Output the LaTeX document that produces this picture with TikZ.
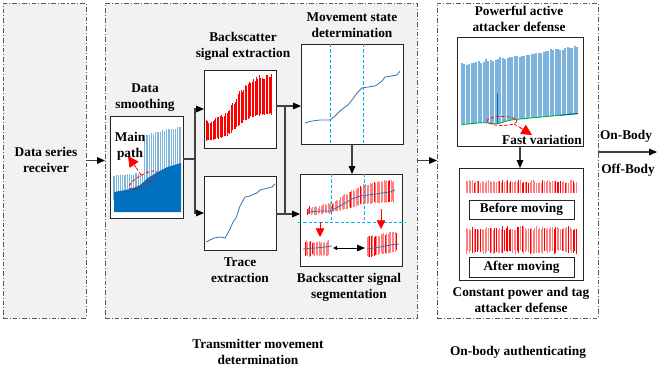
\documentclass[tikz,border=0pt]{standalone}
\usepackage{fontspec}
\setmainfont{Liberation Serif}
\usetikzlibrary{arrows.meta,calc}
\definecolor{panelgray}{RGB}{242,242,242}
\definecolor{frameline}{RGB}{90,90,90}
\definecolor{plotblue}{RGB}{46,117,182}
\definecolor{darkblue}{RGB}{0,112,192}
\definecolor{lightblue}{RGB}{125,180,222}
\definecolor{cyanline}{RGB}{0,176,240}
\definecolor{pinkbar}{RGB}{255,128,128}
\definecolor{greenline}{RGB}{0,176,80}
\definecolor{connline}{RGB}{64,64,64}
\begin{document}
\begin{tikzpicture}[x=0.75pt,y=-0.75pt,
  panel/.style={draw=frameline, line width=0.6pt, dash pattern=on 3.5pt off 1.5pt on 0.8pt off 1.5pt, inner sep=0pt, outer sep=0pt},
  plotbox/.style={draw=black!85, line width=0.7pt, fill=white, inner sep=0pt, outer sep=0pt},
  lbl/.style={font=\bfseries\fontsize{10}{12}\selectfont, align=center, inner sep=0pt},
  conn/.style={draw=connline, line width=0.8pt, -{Triangle[length=6pt,width=5pt,color=black]}},
  plainline/.style={draw=connline, line width=0.8pt},
  cyandash/.style={draw=cyanline, line width=0.6pt, dash pattern=on 2.5pt off 1.5pt},
  redarrow/.style={draw=red, line width=0.6pt, -{Triangle[length=6.5pt,width=6.5pt,color=red]}},
  bigredarrow/.style={draw=red, line width=0.6pt, -{Triangle[length=8pt,width=8pt,color=red]}},
  reddash/.style={draw=red, line width=0.6pt, dash pattern=on 2.5pt off 1.5pt},
  declare function={pb(\x)=124.5-11*(\x-462)/116+2.5*exp(-((\x-497)/9)*((\x-497)/9));}
]
\useasboundingbox (0,0) rectangle (664,376);

% ---------- panels ----------
\node[panel, fill=panelgray, minimum width=62.25pt, minimum height=236.25pt] (recv) at (44.5,160.5) {};
\node[panel, fill=panelgray, minimum width=234pt, minimum height=236.25pt] (tmd) at (261,160.5) {};
\node[panel, fill=white, minimum width=120.75pt, minimum height=236.25pt] (auth) at (517.5,160.5) {};

% ---------- plot boxes ----------
\node[plotbox, minimum width=54.75pt, minimum height=76.5pt] (ds) at (146.5,167) {};
\node[plotbox, minimum width=54pt, minimum height=58.5pt] (bse) at (240,109) {};
\node[plotbox, minimum width=54pt, minimum height=55.5pt] (te) at (240,213) {};
\node[plotbox, minimum width=76.5pt, minimum height=75pt] (msd) at (352,94) {};
\node[plotbox, minimum width=76.5pt, minimum height=69pt] (seg) at (351,220) {};
\node[plotbox, minimum width=94.5pt, minimum height=81.75pt] (pad) at (520,91.5) {};
\node[plotbox, minimum width=93pt, minimum height=84pt] (cpd) at (521,224) {};

% ---------- data smoothing plot ----------
\pgfmathsetseed{11}
\foreach \x in {114,116.2,...,181}{
  \pgfmathsetmacro{\myH}{\x<144 ? 175-(\x-114)*0.1+rnd*2 : 135-(\x-144)*0.27+rnd*3}
  \draw[lightblue, line width=1pt] (\x,200) -- (\x,\myH);
}
\fill[darkblue] (114,212) -- (114,192) -- plot[smooth] coordinates {(120,191) (130,189) (140,185) (148,178) (158,172) (168,167) (181,163)} -- (181,212) -- cycle;
\draw[reddash, rotate around={30:(143,180)}] (143,180) ellipse [x radius=16, y radius=5];
\draw[reddash] (141,175) -- (135,166);
\draw[bigredarrow] (136,167.5) -- (128,156);

% ---------- backscatter extraction plot ----------
\pgfmathsetseed{7}
\foreach \x in {206,207.4,...,273}{
  \pgfmathsetmacro{\myT}{(\x-206)/67}
  \pgfmathsetmacro{\myS}{1/(1+exp(-(\myT-0.45)*9))}
  \pgfmathsetmacro{\myLo}{140-27*\myS+rnd*2}
  \pgfmathsetmacro{\myHi}{120-47*\myS+rnd*5}
  \draw[red, line width=0.5pt] (\x,\myLo) -- (\x,\myHi);
}

% ---------- trace plot ----------
\draw[plotblue, line width=0.6pt] plot coordinates {(206,242) (210,240) (214,238) (220,237) (225,238) (230,229) (233,222) (236,218) (240,206) (245,197) (250,196) (254,194) (257,193) (260,190) (264,189) (268,188) (272,187) (275,184)};

% ---------- movement state plot ----------
\draw[cyandash] (330,44) -- (330,144);
\draw[cyandash] (363,44) -- (363,144);
\draw[plotblue, line width=0.6pt] plot coordinates {(305,123) (312,121) (320,120) (330,120) (335,116) (340,111) (345,107) (348,105) (352,100) (357,93) (362,88) (368,87) (375,86) (378,84) (382,81) (385,77) (392,76) (397,75) (400,71)};

% ---------- segmentation plot ----------
\pgfmathsetseed{5}
\foreach \x in {307,308.4,...,395}{
  \pgfmathsetmacro{\myT}{(\x-307)/88}
  \pgfmathsetmacro{\myS}{1/(1+exp(-(\myT-0.45)*8))}
  \pgfmathsetmacro{\myLo}{214-13*\myS+rnd*2}
  \pgfmathsetmacro{\myHi}{207-28*\myS+rnd*3}
  \pgfmathsetmacro{\myR}{rnd}
  \ifdim\myR pt<0.15pt \def\myC{red}\else\def\myC{pinkbar}\fi
  \draw[\myC, line width=0.5pt] (\x,\myLo) -- (\x,\myHi);
}
\draw[plotblue, line width=0.6pt] plot coordinates {(308,212) (320,211) (330,211) (338,207) (345,203) (352,199) (360,196) (368,195) (375,194) (382,193) (390,192) (395,190)};
\foreach \x in {305,306.4,...,330}{
  \pgfmathsetmacro{\myLo}{257-rnd*3}
  \pgfmathsetmacro{\myHi}{240+rnd*3}
  \pgfmathsetmacro{\myR}{rnd}
  \ifdim\myR pt<0.2pt \def\myC{red}\else\def\myC{pinkbar}\fi
  \draw[\myC, line width=0.5pt] (\x,\myLo) -- (\x,\myHi);
}
\foreach \x in {367,368.4,...,397}{
  \pgfmathsetmacro{\myLo}{258-(\x-367)*0.2-rnd*2}
  \pgfmathsetmacro{\myHi}{236-(\x-367)*0.2+rnd*3}
  \pgfmathsetmacro{\myR}{rnd}
  \ifdim\myR pt<0.25pt \def\myC{red}\else\def\myC{pinkbar}\fi
  \draw[\myC, line width=0.5pt] (\x,\myLo) -- (\x,\myHi);
}
\draw[plotblue, line width=0.6pt] plot coordinates {(303,249) (315,248) (325,247) (332,246)};
\draw[plotblue, line width=0.6pt] plot coordinates {(367,249) (380,247) (390,245) (399,244)};
\draw[cyandash] (331,174) -- (331,222);
\draw[cyandash] (364,174) -- (364,222);
\draw[cyandash] (298,222) -- (405,222);
\draw[redarrow] (320,222) -- (320,237);
\draw[redarrow] (381,209) -- (381,229);
\draw[black, line width=0.6pt, {Triangle[length=3pt,width=3pt]}-{Triangle[length=6pt,width=5pt]}] (333,248) -- (365,248);

% ---------- powerful active attacker plot ----------
\pgfmathsetseed{3}
\foreach \x in {462,464.4,...,578}{
  \pgfmathsetmacro{\myHi}{63-(\x-462)*0.16+rnd*3}
  \draw[lightblue, line width=1.45pt] (\x,{pb(\x)}) -- (\x,\myHi);
}
\draw[greenline, line width=0.7pt, domain=462:578, samples=60] plot (\x,{pb(\x)});
\draw[darkblue!80!black, line width=0.7pt] (560,{pb(560)}) -- (578,{pb(578)});
\draw[darkblue, line width=0.7pt] (497,93) -- (497,{pb(497)});
\draw[reddash] (502,121) ellipse [x radius=15, y radius=4.5];
\draw[reddash] (514,124) -- (521,128);
\draw[bigredarrow] (520,127.5) -- (532,135);

% ---------- constant power strips ----------
\pgfmathsetseed{9}
\foreach \x in {466,467.6,...,577}{
  \pgfmathsetmacro{\myHi}{180+rnd*3}
  \pgfmathsetmacro{\myR}{rnd}
  \ifdim\myR pt<0.3pt \def\myC{red}\else\def\myC{pinkbar}\fi
  \draw[\myC, line width=0.55pt] (\x,193) -- (\x,\myHi);
}
\foreach \x in {466,467.6,...,578}{
  \pgfmathsetmacro{\myHi}{226+rnd*4}
  \pgfmathsetmacro{\myLo}{254-rnd*4}
  \pgfmathsetmacro{\myR}{rnd}
  \ifdim\myR pt<0.3pt \def\myC{red}\else\def\myC{pinkbar}\fi
  \draw[\myC, line width=0.55pt] (\x,\myLo) -- (\x,\myHi);
}
\node[plotbox, minimum width=78.75pt, minimum height=14.25pt] (before) at (521.5,209.5) {};
\node[plotbox, minimum width=78.75pt, minimum height=15pt] (after) at (521.5,267) {};

% ---------- labels ----------
\node[lbl] (recvL) at (46,160) {Data series\\receiver};
\node[lbl] (dsL) at (145,98) {Data\\smoothing};
\node[lbl] (mainL) at (130,146) {Main\\path};
\node[lbl] (bseL) at (243,46) {Backscatter\\signal extraction};
\node[lbl] (msdL) at (352,25) {Movement state\\determination};
\node[lbl] (teL) at (240,270) {Trace\\extraction};
\node[lbl] (segL) at (349,287) {Backscatter signal\\segmentation};
\node[lbl] (tmdL) at (258,352) {Transmitter movement\\determination};
\node[lbl] (padL) at (519,19) {Powerful active\\attacker defense};
\node[lbl] (fastL) at (542,140) {Fast variation};
\node[lbl] (beforeL) at (before) {Before moving};
\node[lbl] (afterL) at (after) {After moving};
\node[lbl] (cpdL) at (521,300) {Constant power and tag\\attacker defense};
\node[lbl] (authL) at (518,352) {On-body authenticating};
\node[lbl] (onL) at (626,136) {On-Body};
\node[lbl] (offL) at (628,170) {Off-Body};

% ---------- connectors ----------
\coordinate (j1) at (195,159);
\coordinate (j2) at (285,106);
\coordinate (j3) at (285,214);
\coordinate (outp) at (657,152);
\draw[conn] (recv.east) -- (tmd.west);
\draw[conn] (tmd.east) -- (auth.west);
\draw[conn] (auth.east |- outp) -- (outp);
\draw[plainline] (ds.east |- j1) -- (j1);
\draw[conn] (j1) |- (bse.west);
\draw[conn] (j1) |- (te.west);
\draw[conn] (bse.east |- j2) -- (msd.west |- j2);
\draw[plainline] (j2) -- (j3);
\draw[conn] (te.east |- j3) -- (seg.west |- j3);
\draw[conn] (msd.south) -- (msd.south |- seg.north);
\draw[conn] (pad.south) -- (pad.south |- cpd.north);
\end{tikzpicture}
\end{document}
